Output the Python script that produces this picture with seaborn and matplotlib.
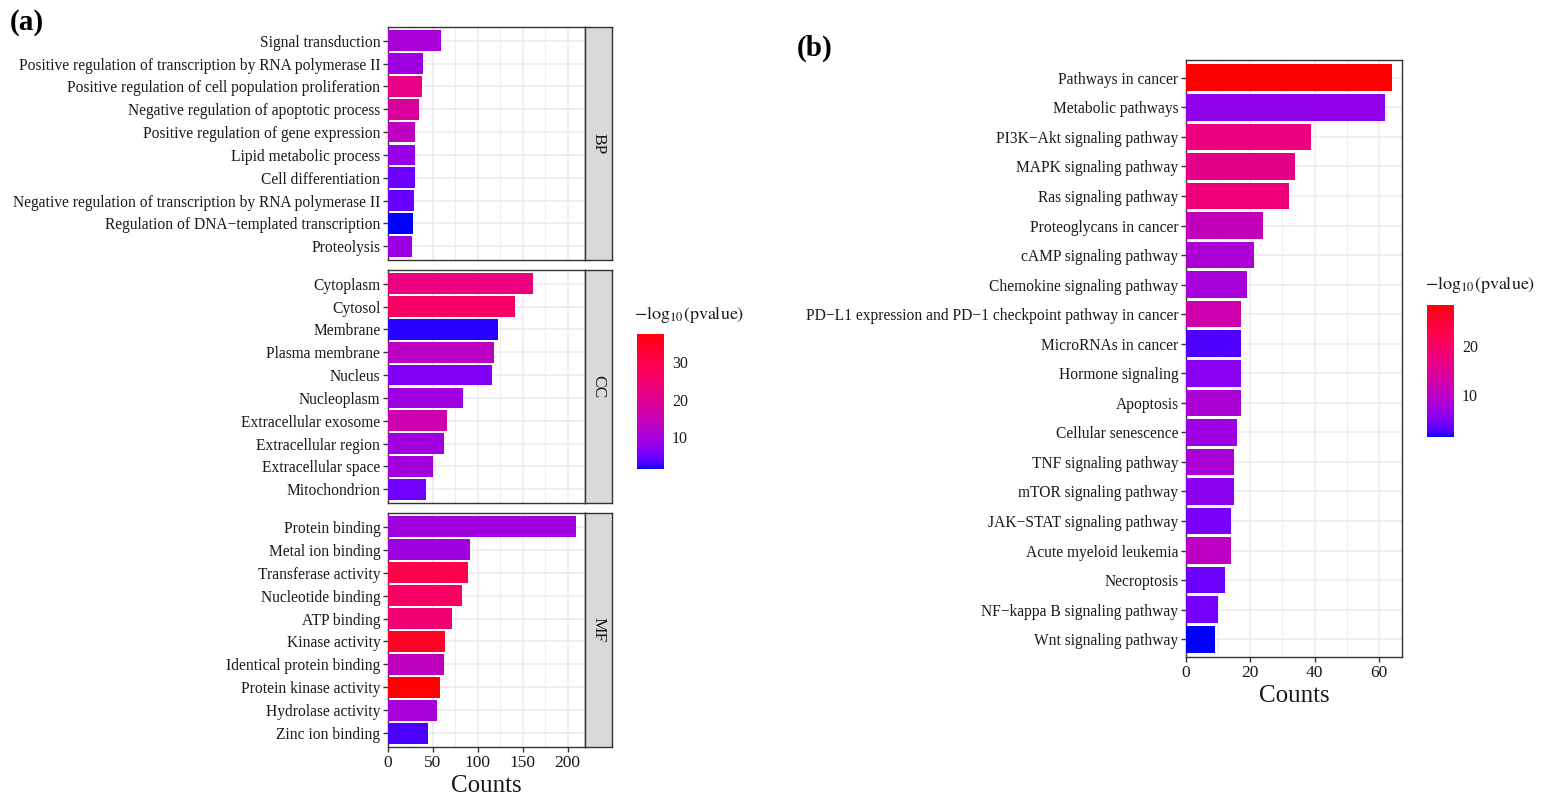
import numpy as np
import matplotlib
matplotlib.use("Agg")
import matplotlib.pyplot as plt
import seaborn as sns
from matplotlib.colors import ListedColormap, Normalize
from matplotlib.cm import ScalarMappable

# %% data
bp_terms = [
    "Signal transduction",
    "Positive regulation of transcription by RNA polymerase II",
    "Positive regulation of cell population proliferation",
    "Negative regulation of apoptotic process",
    "Positive regulation of gene expression",
    "Lipid metabolic process",
    "Cell differentiation",
    "Negative regulation of transcription by RNA polymerase II",
    "Regulation of DNA\u2212templated transcription",
    "Proteolysis",
]
bp_counts = [59, 39, 38, 35, 30, 30, 30, 29, 28, 27]
bp_logp = [10.6, 9.2, 21.8, 18.5, 13.5, 8.4, 4.8, 4.5, 1.55, 8.8]

cc_terms = [
    "Cytoplasm", "Cytosol", "Membrane", "Plasma membrane", "Nucleus",
    "Nucleoplasm", "Extracellular exosome", "Extracellular region",
    "Extracellular space", "Mitochondrion",
]
cc_counts = [161, 142, 123, 118, 116, 83, 66, 62, 50, 42]
cc_logp = [22.5, 26.8, 2.0, 13.1, 6.3, 9.2, 16, 9.5, 9.9, 5.2]

mf_terms = [
    "Protein binding", "Metal ion binding", "Transferase activity",
    "Nucleotide binding", "ATP binding", "Kinase activity",
    "Identical protein binding", "Protein kinase activity",
    "Hydrolase activity", "Zinc ion binding",
]
mf_counts = [209, 91, 89, 82, 71, 64, 62, 58, 55, 45]
mf_logp = [9.5, 9.2, 30.4, 26.8, 24.3, 34.7, 13.5, 37.5, 10.2, 3.0]

kegg_terms = [
    "Pathways in cancer", "Metabolic pathways", "PI3K\u2212Akt signaling pathway",
    "MAPK signaling pathway", "Ras signaling pathway", "Proteoglycans in cancer",
    "cAMP signaling pathway", "Chemokine signaling pathway",
    "PD\u2212L1 expression and PD\u22121 checkpoint pathway in cancer",
    "MicroRNAs in cancer", "Hormone signaling", "Apoptosis",
    "Cellular senescence", "TNF signaling pathway", "mTOR signaling pathway",
    "JAK\u2212STAT signaling pathway", "Acute myeloid leukemia", "Necroptosis",
    "NF\u2212kappa B signaling pathway", "Wnt signaling pathway",
]
kegg_counts = [64, 62, 39, 34, 32, 24, 21, 19, 17, 17, 17, 17, 16, 15, 15, 14, 14, 12, 10, 9]
kegg_logp = [28.3, 6.0, 17.5, 16.2, 17.8, 10.8, 8.4, 7.9, 12.4, 2.7,
             5.4, 8.4, 7.0, 8.1, 5.7, 4.6, 10.3, 3.8, 4.4, 1.4]

# %% blue -> red gradient interpolated in CIELAB (like ggplot's scale_fill_gradient)
WHITE = np.array([0.95047, 1.0, 1.08883])
M = np.array([[0.4124, 0.3576, 0.1805], [0.2126, 0.7152, 0.0722], [0.0193, 0.1192, 0.9505]])


def to_lab(rgb):
    c = np.asarray(rgb, float)
    c = np.where(c > 0.04045, ((c + 0.055) / 1.055) ** 2.4, c / 12.92)
    xyz = M @ c / WHITE
    f = np.where(xyz > 0.008856, np.cbrt(xyz), 7.787 * xyz + 16 / 116)
    return np.array([116 * f[1] - 16, 500 * (f[0] - f[1]), 200 * (f[1] - f[2])])


def to_rgb(lab):
    fy = (lab[0] + 16) / 116
    f = np.array([fy + lab[1] / 500, fy, fy - lab[2] / 200])
    xyz = np.where(f ** 3 > 0.008856, f ** 3, (f - 16 / 116) / 7.787) * WHITE
    c = np.linalg.solve(M, xyz)
    c = np.clip(c, 0, 1)
    c = np.where(c > 0.0031308, 1.055 * c ** (1 / 2.4) - 0.055, 12.92 * c)
    # the published figure is a little brighter than a plain Lab ramp
    return np.clip(c * 1.1, 0, 1)


lo, hi = to_lab([0, 0, 1]), to_lab([1, 0, 0])
cmap = ListedColormap([to_rgb(lo + t * (hi - lo)) for t in np.linspace(0, 1, 256)])

# %% style
sns.set_style("white")
plt.rcParams["font.family"] = ["Liberation Serif", "DejaVu Serif"]
plt.rcParams["mathtext.fontset"] = "stix"
plt.rcParams["axes.unicode_minus"] = True

TXT = "#1A1A1A"
GRID = "#EBEBEB"
BORDER = "#333333"

fig = plt.figure(figsize=(15.45, 8.02), dpi=100)


def draw_bars(ax, terms, counts, logp, norm, major, minor):
    pal = {t: cmap(norm(v)) for t, v in zip(terms, logp)}
    sns.barplot(x=counts, y=terms, hue=terms, palette=pal, legend=False,
                orient="h", width=0.9, saturation=1, ax=ax, zorder=3,
                edgecolor="none")
    ax.set_xlim(0, max(counts) * 1.05)
    ax.set_ylim(len(terms) - 0.4, -0.6)
    ax.set_xticks(major)
    ax.set_xticks(minor, minor=True)
    ax.grid(True, which="major", color=GRID, lw=1.1, zorder=0)
    ax.grid(True, which="minor", axis="x", color=GRID, lw=0.6, zorder=0)
    ax.set_axisbelow(True)
    ax.set_xlabel("")
    ax.set_ylabel("")
    for s in ax.spines.values():
        s.set_visible(True)
        s.set_color(BORDER)
        s.set_linewidth(1.0)
    ax.tick_params(axis="both", which="major", length=3.5, width=1.0,
                   color=BORDER, labelcolor=TXT, pad=2)
    ax.tick_params(axis="y", labelsize=11.2, left=True)
    ax.tick_params(axis="x", labelsize=12.5, bottom=True)
    ax.tick_params(which="minor", length=0)


def add_colorbar(rect, norm, ticks, title_xy):
    cax = fig.add_axes(rect)
    cb = fig.colorbar(ScalarMappable(norm=norm, cmap=cmap), cax=cax, ticks=ticks)
    cb.outline.set_visible(False)
    cb.minorticks_off()
    cax.tick_params(color="white", direction="in", length=5, width=0.8,
                    left=True, right=True, labelleft=False, labelright=True,
                    labelsize=11.5, labelcolor=TXT, pad=6)
    fig.text(title_xy[0], title_xy[1], r"$-\mathrm{log}_{10}(\mathrm{pvalue})$",
             fontsize=13, color=TXT, va="center", ha="left")


# %% panel (a)
a_norm = Normalize(min(bp_logp + cc_logp + mf_logp), max(bp_logp + cc_logp + mf_logp))
a_xmax = max(bp_counts + cc_counts + mf_counts) * 1.05
facets = [
    ("BP", bp_terms, bp_counts, bp_logp, 27, 260),
    ("CC", cc_terms, cc_counts, cc_logp, 270, 503),
    ("MF", mf_terms, mf_counts, mf_logp, 513, 747),
]
W, H = 1545, 802
for i, (name, terms, counts, logp, top, bot) in enumerate(facets):
    ax = fig.add_axes([388 / W, 1 - bot / H, 197 / W, (bot - top) / H])
    draw_bars(ax, terms, counts, logp, a_norm,
              [0, 50, 100, 150, 200], [25, 75, 125, 175])
    ax.set_xlim(0, a_xmax)
    if i < 2:
        ax.tick_params(axis="x", labelbottom=False, length=0)
    else:
        ax.set_xlabel("Counts", fontsize=18, color=TXT, labelpad=3)
    sax = fig.add_axes([585 / W, 1 - bot / H, 27 / W, (bot - top) / H])
    sax.set_facecolor("#D9D9D9")
    sax.set_xticks([])
    sax.set_yticks([])
    for s in sax.spines.values():
        s.set_color(BORDER)
        s.set_linewidth(1.0)
    sax.text(0.5, 0.5, name, rotation=-90, ha="center", va="center",
             fontsize=12.5, color=TXT, transform=sax.transAxes)

add_colorbar([637 / W, 1 - 469 / H, 26.5 / W, 135 / H], a_norm, [10, 20, 30],
             (634 / W, 1 - 315 / H))

# %% panel (b)
b_norm = Normalize(min(kegg_logp), max(kegg_logp))
bx = fig.add_axes([1186 / W, 1 - 657 / H, 216 / W, 597 / H])
draw_bars(bx, kegg_terms, kegg_counts, kegg_logp, b_norm,
          [0, 20, 40, 60], [10, 30, 50])
bx.set_xlabel("Counts", fontsize=18, color=TXT, labelpad=3)

add_colorbar([1427 / W, 1 - 437 / H, 26.5 / W, 132 / H], b_norm, [10, 20],
             (1425 / W, 1 - 285 / H))

fig.text(10 / W, 1 - 22 / H, "(a)", fontsize=21, fontweight="bold", va="center",
         ha="left", color="black")
fig.text(797 / W, 1 - 48 / H, "(b)", fontsize=21, fontweight="bold", va="center",
         ha="left", color="black")

fig.savefig("out.png", dpi=100, facecolor="white")
